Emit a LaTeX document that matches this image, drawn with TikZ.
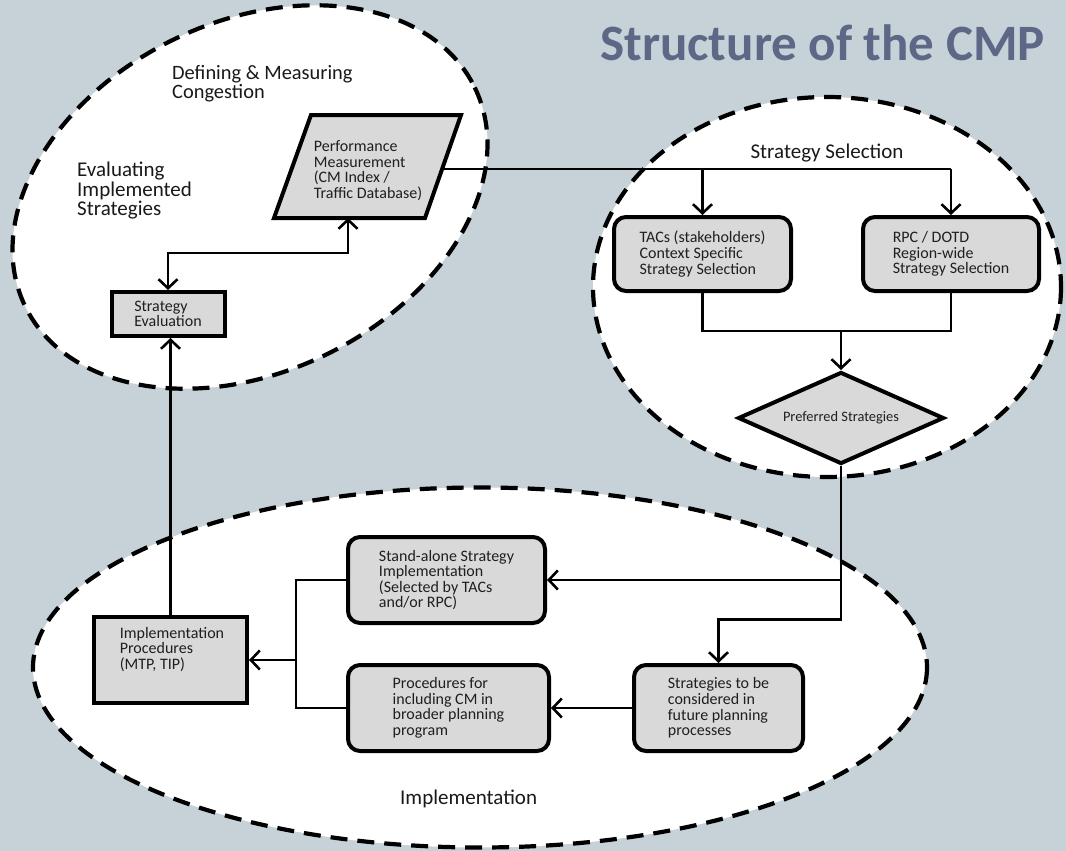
\documentclass[tikz,border=0pt]{standalone}
\usepackage{fontspec}
\setmainfont{Carlito}
\usetikzlibrary{arrows.meta,shapes.geometric,calc}
\definecolor{bgc}{RGB}{198,209,216}
\definecolor{boxg}{RGB}{217,217,217}
\definecolor{titlec}{RGB}{94,104,134}
\begin{document}
\begin{tikzpicture}[x=1pt,y=-1pt,
  region/.style={fill=white, draw=black, line width=4.2pt, dash pattern=on 17pt off 10pt},
  sqbox/.style={draw=black, fill=boxg, line width=4pt, inner sep=0pt},
  rbox/.style={sqbox, rounded corners=12pt},
  btxt/.style={font=\fontsize{16}{15.6}\selectfont, align=left, text=black!88, inner sep=0pt},
  lbl/.style={font=\fontsize{21}{19.5}\selectfont, align=left, text=black!90, inner sep=0pt},
  conn/.style={line width=2.6pt, draw=black},
  arr/.style={-{Straight Barb[length=9pt,width=19pt]}},
  arrb/.style={{Straight Barb[length=9pt,width=19pt]}-{Straight Barb[length=9pt,width=19pt]}}
]
\fill[bgc] (0,0) rectangle (1066,851);
\useasboundingbox (0,0) rectangle (1066,851);

% regions
\draw[region, rotate around={26:(250,197)}] (250,197) ellipse [x radius=250, y radius=175];
\draw[region] (827,287) ellipse [x radius=234, y radius=190];
\draw[region] (480,667.5) ellipse [x radius=447, y radius=180];

% title
\node[font=\fontsize{51}{51}\selectfont\bfseries, text=titlec, anchor=base east, inner sep=0pt] (title) at (1045,61) {Structure of the CMP};

% region labels
\node[lbl, anchor=west, font=\fontsize{20.4}{19}\selectfont] (ldef) at (172,83.5) {Defining \& Measuring\\Congestion};
\node[lbl, anchor=west] (leval) at (77,191) {Evaluating\\Implemented\\Strategies};
\node[lbl] (lsel) at (827,153) {Strategy Selection};
\node[lbl, anchor=west] (limp) at (400,799) {Implementation};

% performance measurement (parallelogram)
\draw[line width=4pt, fill=boxg, line join=miter] (311,115) -- (461,115) -- (425,218) -- (274,218) -- cycle;
\node[btxt] (perf) at (368,170.5) {Performance\\Measurement\\(CM Index /\\Traffic Database)};
\coordinate (perfS) at (348,218);
\coordinate (perfE) at (444,169);

% boxes
\node[sqbox, minimum width=113pt, minimum height=44pt, btxt, inner sep=0pt, draw=black] (seval) at (168,314) {Strategy\\Evaluation};
\node[sqbox, minimum width=153pt, minimum height=86pt] (impl) at (170.5,660) {};
\node[btxt] (impltxt) at (172,649.5) {Implementation\\Procedures\\(MTP, TIP)};
\node[rbox, minimum width=177pt, minimum height=74pt] (tacs) at (702.5,254) {};
\node[btxt] at (tacs.center) {TACs (stakeholders)\\Context Specific\\Strategy Selection};
\node[rbox, minimum width=176pt, minimum height=74pt] (rpc) at (951,254) {};
\node[btxt] at (rpc.center) {RPC / DOTD\\Region-wide\\Strategy Selection};
\node[draw=black, fill=boxg, line width=4pt, diamond, minimum width=206pt, minimum height=92pt, inner sep=0pt] (pref) at (841,418) {};
\node[btxt, font=\fontsize{14.4}{14}\selectfont] at (pref.center) {Preferred Strategies};
\node[rbox, minimum width=197pt, minimum height=86pt] (stand) at (446.5,580) {};
\node[btxt] at (stand.center) {Stand-alone Strategy\\Implementation\\(Selected by TACs\\and/or RPC)};
\node[rbox, minimum width=201pt, minimum height=86pt] (proc) at (448.5,708) {};
\node[btxt] at (proc.center) {Procedures for\\including CM in\\broader planning\\program};
\node[rbox, minimum width=169pt, minimum height=86pt] (strat) at (718.5,708) {};
\node[btxt] at (strat.center) {Strategies to be\\considered in\\future planning\\processes};

% connectors
\draw[conn, arrb] (seval.north) -- ++(0,-37) -| (perfS);
\draw[conn] (perfE) -- (rpc.north |- perfE);
\draw[conn, arr] (tacs.north |- perfE) -- (tacs.north);
\draw[conn, arr] (rpc.north |- perfE) -- (rpc.north);
\draw[conn] (tacs.south) -- ++(0,38) -| (rpc.south);
\path (pref.north) ++(0,-39) coordinate (jm);
\draw[conn, arr] (jm) -- (pref.north);
\draw[conn, arr] (pref.south) -- ++(0,153.5) -| (strat.north);
\draw[conn, arr] (pref.south |- stand.east) -- (stand.east);
\draw[conn, arr] (strat.west) -- (proc.east);
\path (stand.west) ++(-50,0) coordinate (jl);
\draw[conn] (stand.west) -- (jl) |- (proc.west);
\draw[conn, arr] (impl.east -| jl) -- (impl.east);
\draw[conn, arr] (impl.north) -- (impl.north |- seval.south);
\end{tikzpicture}
\end{document}
